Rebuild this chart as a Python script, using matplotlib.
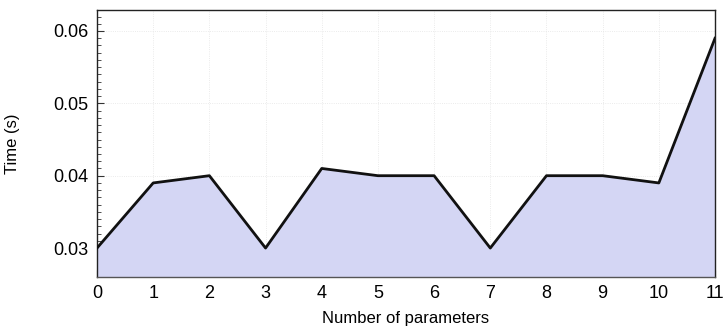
import matplotlib.pyplot as plt
from matplotlib.ticker import MultipleLocator

plt.rcParams['font.family'] = ['Liberation Sans', 'DejaVu Sans']

n_params = [0, 1, 2, 3, 4, 5, 6, 7, 8, 9, 10, 11]
times = [0.030, 0.039, 0.040, 0.030, 0.041, 0.040, 0.040, 0.030, 0.040, 0.040, 0.039, 0.059]

fig = plt.figure(figsize=(7.24, 3.28), dpi=100)
ax = fig.add_axes([0.134, 0.1555, 0.8536, 0.814])

ymin, ymax = 0.026, 0.0629
ax.fill_between(n_params, times, ymin, color='#d4d6f4', lw=0, zorder=1)
ax.plot(n_params, times, color='#111111', lw=2.0, zorder=3)

ax.set_xlim(0, 11)
ax.set_ylim(ymin, ymax)
ax.xaxis.set_major_locator(MultipleLocator(1))
ax.xaxis.set_minor_locator(MultipleLocator(0.1))
ax.yaxis.set_major_locator(MultipleLocator(0.01))
ax.yaxis.set_minor_locator(MultipleLocator(0.001))
ax.yaxis.set_major_formatter(plt.FormatStrFormatter('%.2f'))

ax.grid(True, which='major', color='#e4e4e4', lw=0.6, ls=':', zorder=0)
ax.set_axisbelow(True)

ax.tick_params(which='both', direction='in', labelsize=13, color='#333333', pad=6)
ax.tick_params(which='major', length=5)
ax.tick_params(which='minor', length=3)
for s in ax.spines.values():
    s.set_color('#222222')
    s.set_linewidth(1.0)
ax.spines['bottom'].set_color('#555555')

ax.set_xlabel('Number of parameters', fontsize=12)
ax.xaxis.set_label_coords(0.5, -0.127)
ax.set_ylabel('Time (s)', fontsize=12)
ax.yaxis.set_label_coords(-0.124, 0.5)

fig.savefig('out.png', dpi=100)
